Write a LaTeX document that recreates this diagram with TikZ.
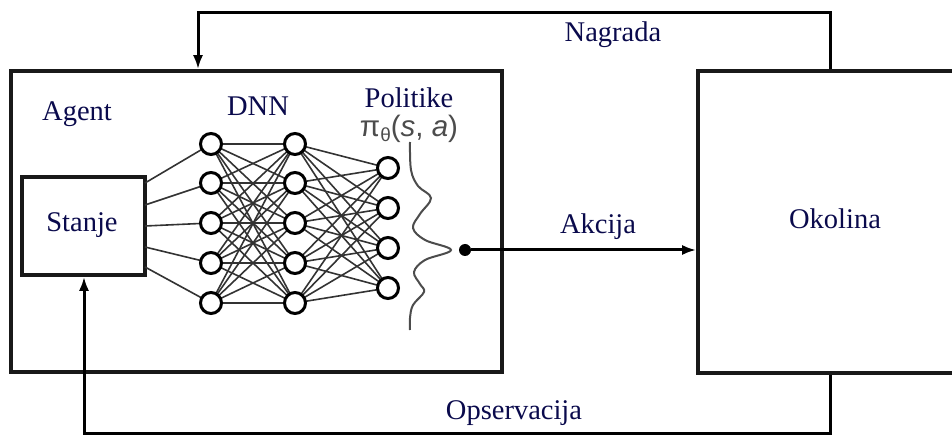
\documentclass[tikz,border=0pt]{standalone}
\usepackage{fontspec}
\setmainfont{Liberation Serif}
\newfontfamily\arialf{Liberation Sans}
\usetikzlibrary{arrows.meta,calc}
\definecolor{navy}{rgb}{0.04,0.04,0.30}
\definecolor{pgray}{rgb}{0.30,0.30,0.30}
\tikzset{
  box/.style={draw=black!90, line width=3.6pt, minimum width=#1},
  lbl/.style={text=navy, font=\fontsize{28.5}{30}\selectfont, inner sep=0pt},
  neuron/.style={circle, draw=black, line width=3pt, fill=white, minimum size=21pt, inner sep=0pt},
  syn/.style={line width=1.6pt, draw=black!80},
  conn/.style={line width=3pt, draw=black},
  arr/.style={conn, -{Latex[length=14pt,width=10pt]}},
}
\begin{document}
\begin{tikzpicture}[x=1pt,y=-1pt]
\useasboundingbox (0,0) rectangle (952,435);
% boxes
\node[box=491pt, minimum height=301pt] (agent) at (256.5,221.5) {};
\node[box=277pt, minimum height=302pt] (okolina) at (836.5,222) {};
\node[box=123pt, minimum height=98pt] (stanje) at (83.5,226) {};
% labels
\node[lbl] (tagent) at (77,114) {Agent};
\node[lbl] (tdnn) at (258,106) {DNN};
\node[lbl] (tpol) at (409,98) {Politike};
\node[text=pgray, inner sep=0pt, font=\arialf\fontsize{29.5}{30}\selectfont] (tpi) at (409,129) {π\raisebox{-0.3ex}{\fontsize{19}{19}\selectfont θ}(\textit{s}, \textit{a})};
\node[lbl] (tstanje) at (82,225) {Stanje};
\node[lbl] (tokolina) at (835,219) {Okolina};
\node[lbl] (takcija) at (598,227) {Akcija};
\node[lbl] (tnagrada) at (613,35) {Nagrada};
\node[lbl] (topserv) at (514,413) {Opservacija};
% neurons
\foreach \i/\y in {1/144,2/183,3/223,4/263,5/303} {
  \coordinate (a\i) at (211,\y);
  \coordinate (b\i) at (295,\y);
}
\foreach \i/\y in {1/168,2/208,3/248,4/288} {
  \coordinate (c\i) at (388,\y);
}
\foreach \i/\y in {1/183,2/205,3/226,4/247,5/267} {
  \coordinate (s\i) at (145,\y);
  \draw[syn] (s\i) -- (a\i);
}
\foreach \i in {1,...,5} {
  \foreach \j in {1,...,5} { \draw[syn] (a\i) -- (b\j); }
  \foreach \j in {1,...,4} { \draw[syn] (b\i) -- (c\j); }
}
\foreach \i in {1,...,5} {
  \node[neuron] (na\i) at (a\i) {};
  \node[neuron] (nb\i) at (b\i) {};
}
\foreach \i in {1,...,4} { \node[neuron] (nc\i) at (c\i) {}; }
% distribution curve
\draw[line width=2pt, pgray] plot[smooth, tension=0.6] coordinates {
  (410,142) (411,170) (418,186) (431,198) (420,214) (413,228) (425,240) (451,250)
  (425,260) (414,272) (420,284) (424,292) (413,305) (410,318) (410,330)};
% action
\node[circle, fill=black, minimum size=12pt, inner sep=0pt] (dot) at (465,250) {};
\draw[arr] (dot) -- (dot -| okolina.west);
% reward loop
\coordinate (topR) at (830,13);
\coordinate (topL) at (198,13);
\draw[arr] (okolina.north -| topR) -- (topR) -- (topL) -- (topL |- agent.north);
% observation loop
\coordinate (botR) at (830,433);
\coordinate (botL) at (84,433);
\draw[arr] (okolina.south -| botR) -- (botR) -- (botL) -- (botL |- stanje.south);
\end{tikzpicture}
\end{document}
